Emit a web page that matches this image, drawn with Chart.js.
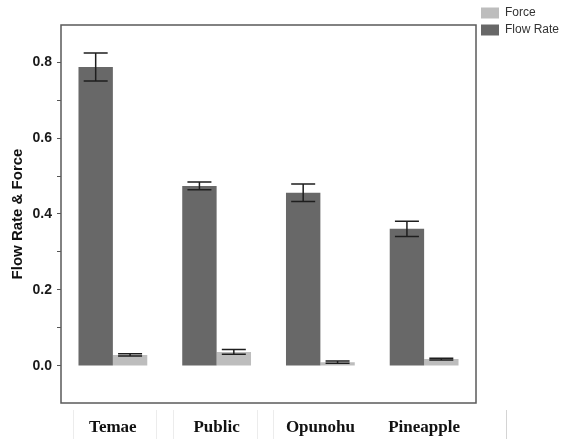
<!DOCTYPE html>
<html>
<head>
<meta charset="utf-8">
<script src="https://cdn.jsdelivr.net/npm/chart.js@4/dist/chart.umd.min.js"></script>
<style>
  html, body { margin: 0; padding: 0; background: #fff; }
  #wrap { width: 563px; height: 439px; }
</style>
</head>
<body>
<div id="wrap"><canvas id="c" width="563" height="439"></canvas></div>
<script>
const categories = ['Temae', 'Public', 'Opunohu', 'Pineapple'];
const flowRate = [0.787, 0.474, 0.456, 0.361];
const flowRateErr = [0.037, 0.010, 0.023, 0.020];
const force = [0.029, 0.037, 0.010, 0.018];
const forceErr = [0.003, 0.006, 0.003, 0.002];
const yTickValues = [0, 0.1, 0.2, 0.3, 0.4, 0.5, 0.6, 0.7, 0.8];
const yTitle = 'Flow Rate & Force';

const errorBars = {
  id: 'errorBars',
  afterDatasetsDraw(chart) {
    const ctx = chart.ctx;
    const y = chart.scales.y;
    ctx.save();
    ctx.strokeStyle = '#1e1e1e';
    ctx.lineWidth = 1.5;
    chart.data.datasets.forEach((ds, di) => {
      const meta = chart.getDatasetMeta(di);
      meta.data.forEach((bar, i) => {
        const v = ds.data[i], e = ds.errors[i];
        const yt = y.getPixelForValue(v + e), yb = y.getPixelForValue(v - e);
        const x = bar.x, hw = 12;
        ctx.beginPath();
        ctx.moveTo(x, yt); ctx.lineTo(x, yb);
        ctx.moveTo(x - hw, yt); ctx.lineTo(x + hw, yt);
        ctx.moveTo(x - hw, yb); ctx.lineTo(x + hw, yb);
        ctx.stroke();
      });
    });
    ctx.restore();
  }
};

const frameBox = {
  id: 'frameBox',
  beforeDraw(chart) {
    const ctx = chart.ctx;
    ctx.save();
    ctx.fillStyle = '#fff';
    ctx.fillRect(0, 0, chart.width, chart.height);
    const a = chart.chartArea;
    ctx.strokeStyle = '#ececec';
    ctx.lineWidth = 1;
    [73, 156, 173, 257, 273].forEach(x => {
      ctx.beginPath(); ctx.moveTo(x + 0.5, a.bottom + 7); ctx.lineTo(x + 0.5, chart.height); ctx.stroke();
    });
    ctx.strokeStyle = '#d4d4d4';
    ctx.beginPath(); ctx.moveTo(506.5, a.bottom + 7); ctx.lineTo(506.5, chart.height); ctx.stroke();
    ctx.restore();
  },
  afterDraw(chart) {
    const a = chart.chartArea;
    const ctx = chart.ctx;
    ctx.save();
    ctx.strokeStyle = '#5a5a5a';
    ctx.lineWidth = 1.5;
    ctx.strokeRect(a.left, a.top, a.right - a.left, a.bottom - a.top);
    ctx.restore();
  }
};

new Chart(document.getElementById('c'), {
  type: 'bar',
  data: {
    labels: categories,
    datasets: [
      { label: 'Flow Rate', data: flowRate, errors: flowRateErr, backgroundColor: '#686868', borderWidth: 0 },
      { label: 'Force', data: force, errors: forceErr, backgroundColor: '#bdbdbd', borderWidth: 0 }
    ]
  },
  options: {
    responsive: false,
    animation: false,
    devicePixelRatio: 1,
    layout: { padding: { top: 2, left: 0, right: 0, bottom: 0 } },
    datasets: { bar: { categoryPercentage: 0.663, barPercentage: 1.0 } },
    plugins: {
      title: { display: true, text: '', font: { size: 10, lineHeight: 1 }, padding: { top: 13, bottom: 0 } },
      tooltip: { enabled: false },
      legend: {
        position: 'right',
        align: 'start',
        reverse: true,
        maxWidth: 87,
        labels: {
          boxWidth: 18,
          boxHeight: 11,
          padding: 5,
          color: '#333',
          font: { family: 'Liberation Sans, Arial, sans-serif', size: 12 }
        }
      }
    },
    scales: {
      x: {
        grid: { display: false, drawTicks: false },
        border: { display: false },
        ticks: {
          padding: 14,
          color: '#111',
          font: { family: 'Liberation Serif, DejaVu Serif, serif', size: 17, weight: 'bold' }
        },
        afterFit(s) { s.height = 36; }
      },
      y: {
        min: -0.0975,
        max: 0.8975,
        afterBuildTicks(s) { s.ticks = yTickValues.map(v => ({ value: v })); },
        grid: { drawOnChartArea: false, tickLength: 4, color: '#555', lineWidth: 1 },
        border: { display: false },
        ticks: {
          padding: 5,
          color: '#1a1a1a',
          font: { family: 'Liberation Sans, Arial, sans-serif', size: 14, weight: 'bold' },
          callback(v) {
            const k = Math.round(v * 10);
            return k % 2 === 0 ? (k / 10).toFixed(1) : '';
          }
        },
        title: {
          display: true,
          text: yTitle,
          color: '#111',
          font: { family: 'Liberation Sans, Arial, sans-serif', size: 15, weight: 'bold' },
          padding: { top: 9, bottom: 0 }
        },
        afterFit(s) { s.width = 61; }
      }
    }
  },
  plugins: [errorBars, frameBox]
});
</script>
</body>
</html>
